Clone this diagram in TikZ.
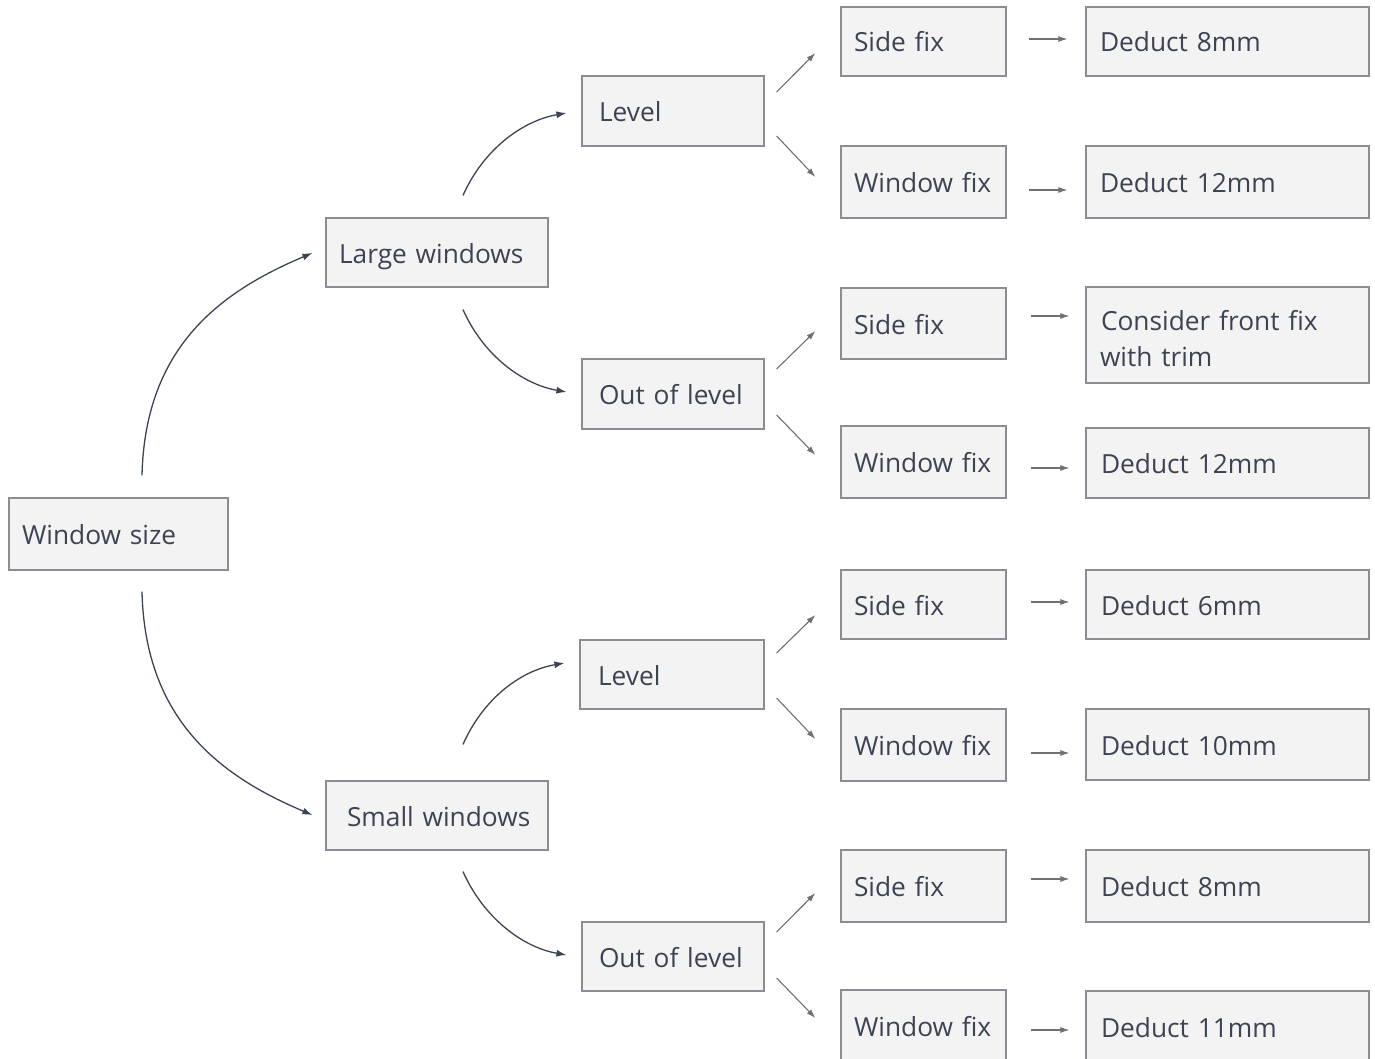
\documentclass[tikz,border=0pt]{standalone}
\usepackage{fontspec}
\setmainfont{Open Sans}
\usetikzlibrary{arrows.meta}

\definecolor{boxfill}{HTML}{F3F3F3}
\definecolor{boxline}{HTML}{8A8E94}
\definecolor{ink}{HTML}{3C4453}
\definecolor{thin}{HTML}{707070}

\tikzset{
	box/.style={draw=boxline, fill=boxfill, text=ink, line width=1.2pt, inner xsep=13pt, inner ysep=0pt,
		align=left, text height=27pt, text depth=6pt, font=\fontsize{26.3}{36}\selectfont},
	rootbox/.style={box, text width=193pt, minimum height=72pt},
	sizebox/.style={box, text width=196pt, minimum height=69pt},
	levelbox/.style={box, inner xsep=17pt, text width=148pt, minimum height=70pt},
	fixbox/.style={box, text width=139pt},
	cutbox/.style={box, inner xsep=14pt, text width=255pt},
	curvearr/.style={draw=ink, line width=1.3pt, -{Latex[length=10pt,width=7pt]}},
	linearr/.style={draw=thin, line width=1.1pt, -{Latex[length=9pt,width=6pt]}}
}

\begin{document}
\begin{tikzpicture}[x=1pt, y=-1pt]
					\clip (0,0) rectangle (1375,1059);
					\node (ws)  at (118.5,534)  [rootbox] {Window size};
					\node (lw)  at (437,252.5)  [sizebox] {Large windows};
					\node (sw)  at (437,815.5)  [sizebox] {\hspace{8pt}Small windows};
					\node (lv1) at (673,111)    [levelbox] {Level};
					\node (ol1) at (673,394)    [levelbox] {Out of level};
					\node (lv2) at (672,674.5)  [levelbox, text width=150pt, minimum height=69pt] {\hspace{1pt}Level};
					\node (ol2) at (673,956.5)  [levelbox, minimum height=69pt] {Out of level};
					% fixing method
					\node (sf1) at (923.5,41.5) [fixbox, minimum height=69pt] {Side fix};
					\node (wf1) at (923.5,182)  [fixbox, minimum height=72pt] {Window fix};
					\node (sf2) at (923.5,323.5)[fixbox, minimum height=71pt] {Side fix};
					\node (wf2) at (923.5,462)  [fixbox, minimum height=72pt] {Window fix};
					\node (sf3) at (923.5,604.5)[fixbox, minimum height=69pt] {Side fix};
					\node (wf3) at (923.5,745)  [fixbox, minimum height=72pt] {Window fix};
					\node (sf4) at (923.5,886)  [fixbox, minimum height=72pt] {Side fix};
					\node (wf4) at (923.5,1026) [fixbox, minimum height=72pt] {Window fix};
					% deductions
					\node (d1) at (1227.5,41.5) [cutbox, minimum height=69pt] {Deduct 8mm};
					\node (d2) at (1227.5,182)  [cutbox, minimum height=72pt] {Deduct 12mm};
					\node (d3) at (1227.5,335)  [cutbox, minimum height=96pt, text depth=37pt] {\hspace{1pt}Consider front fix\\with trim};
					\node (d4) at (1227.5,463)  [cutbox, minimum height=70pt] {\hspace{1pt}Deduct 12mm};
					\node (d5) at (1227.5,604.5)[cutbox, minimum height=69pt] {\hspace{1pt}Deduct 6mm};
					\node (d6) at (1227.5,744.5)[cutbox, minimum height=71pt] {\hspace{1pt}Deduct 10mm};
					\node (d7) at (1227.5,886)  [cutbox, minimum height=72pt] {\hspace{1pt}Deduct 8mm};
					\node (d8) at (1227.5,1027) [cutbox, minimum height=72pt] {\hspace{1pt}Deduct 11mm};
					% Draw the curved arrows
					\draw[curvearr] ([shift={(23.5,-22)}]ws.north) .. controls +(3,-130) and +(-90,38) .. ([shift={(-13,0.5)}]lw.west);
					\draw[curvearr] ([shift={(23.5,21)}]ws.south) .. controls +(3,130) and +(-90,-38) .. ([shift={(-13,-0.5)}]sw.west);
					\draw[curvearr] ([shift={(26,-22)}]lw.north) .. controls +(20,-45) and +(-45,8) .. ([shift={(-15,2)}]lv1.west);
					\draw[curvearr] ([shift={(26,22)}]lw.south) .. controls +(20,45) and +(-45,-8) .. ([shift={(-15,-2)}]ol1.west);
					\draw[curvearr] ([shift={(26,-36)}]sw.north) .. controls +(20,-45) and +(-45,8) .. ([shift={(-15,-11.5)}]lv2.west);
					\draw[curvearr] ([shift={(26,21)}]sw.south) .. controls +(20,45) and +(-45,-8) .. ([shift={(-15,-1.5)}]ol2.west);
					% Draw the straight arrows
					\draw[linearr] ([shift={(12,-19)}]lv1.east) -- ([shift={(-25,11.5)}]sf1.west);
					\draw[linearr] ([shift={(12,25)}]lv1.east) -- ([shift={(-25,-5)}]wf1.west);
					\draw[linearr] ([shift={(12,-25)}]ol1.east) -- ([shift={(-25,7.5)}]sf2.west);
					\draw[linearr] ([shift={(12,21)}]ol1.east) -- ([shift={(-25,-7)}]wf2.west);
					\draw[linearr] ([shift={(12,-21.5)}]lv2.east) -- ([shift={(-25,10.5)}]sf3.west);
					\draw[linearr] ([shift={(12,23.5)}]lv2.east) -- ([shift={(-25,-6)}]wf3.west);
					\draw[linearr] ([shift={(12,-24.5)}]ol2.east) -- ([shift={(-25,7)}]sf4.west);
					\draw[linearr] ([shift={(12,21.5)}]ol2.east) -- ([shift={(-25,-8)}]wf4.west);
					\draw[linearr] ([shift={(22,-2.5)}]sf1.east) -- ([shift={(-18,-2.5)}]d1.west);
					\draw[linearr] ([shift={(22,8)}]wf1.east) -- ([shift={(-18,8)}]d2.west);
					\draw[linearr] ([shift={(24,-7.5)}]sf2.east) -- ([shift={(-16,-19)}]d3.west);
					\draw[linearr] ([shift={(24,6)}]wf2.east) -- ([shift={(-16,5)}]d4.west);
					\draw[linearr] ([shift={(24,-2.5)}]sf3.east) -- ([shift={(-16,-2.5)}]d5.west);
					\draw[linearr] ([shift={(24,8)}]wf3.east) -- ([shift={(-16,8.5)}]d6.west);
					\draw[linearr] ([shift={(24,-7)}]sf4.east) -- ([shift={(-16,-7)}]d7.west);
					\draw[linearr] ([shift={(24,4)}]wf4.east) -- ([shift={(-16,3)}]d8.west);
				\end{tikzpicture}
\end{document}
